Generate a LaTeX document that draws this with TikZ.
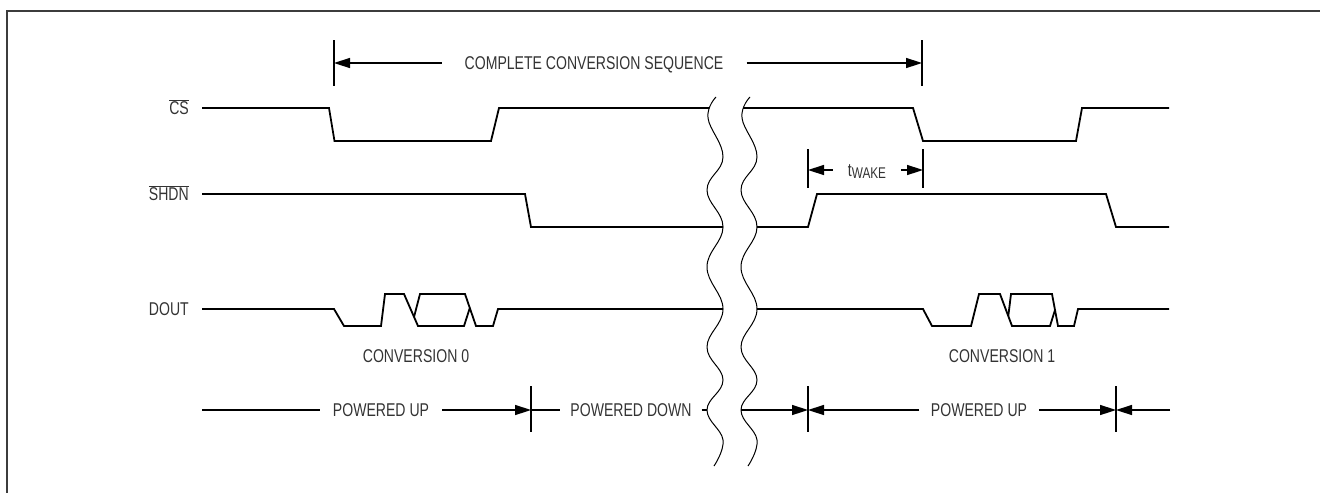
\documentclass[tikz,border=0pt]{standalone}
\usepackage{fontspec}
\setmainfont{Liberation Sans}[FakeStretch=0.76]
\usetikzlibrary{arrows.meta}
\definecolor{inkgray}{HTML}{333333}
\definecolor{framegray}{HTML}{3C3C3C}
\newcommand{\dimarrow}{-{Triangle[length=16pt,width=10pt]}}
\newcommand{\labelsize}{\fontsize{18.5}{22}\selectfont}
\tikzset{
  sig/.style={line width=1.8pt, line join=miter},
  dimline/.style={line width=1.5pt},
  dimbar/.style={line width=1.8pt},
  wavy/.style={line width=1pt},
  lbl/.style={inner ysep=0pt, inner xsep=12pt, text height=13.2pt, text depth=0pt,
    font=\labelsize, text=inkgray},
  signame/.style={lbl, anchor=east, inner xsep=13pt}
}

\begin{document}
\begin{tikzpicture}[x=1pt, y=-1pt]
  \useasboundingbox (0,0) rectangle (1320,493);
  % frame
  \draw[framegray, line width=2.5pt] (1320,11) -- (7,11) -- (7,493);

  % signal names
  \node[signame] (cs) at (202,108) {$\overline{\mbox{CS}}$};
  \node[signame] (shdn) at (202,194) {$\overline{\mbox{SHDN}}$};
  \node[signame] (dout) at (202,309) {DOUT};

  % CS
  \draw[sig] (cs.east) -- (329,108) -- (334.5,141) -- (491,141) -- (499,108) -- (709,108);
  \draw[sig] (743,108) -- (913,108) -- (923,141) -- (1076,141) -- (1082,108) -- (1169,108);
  % SHDN
  \draw[sig] (shdn.east) -- (525,194) -- (531,227) -- (723,227);
  \draw[sig] (757,227) -- (808,227) -- (817,194) -- (1106,194) -- (1116,227) -- (1169,227);
  % DOUT, conversion 0
  \draw[sig] (dout.east) -- (334,309) -- (344,326) -- (381,326) -- (385,294) -- (404,294)
    -- (418,326) -- (464,326) -- (469.8,308);
  \draw[sig] (414,317) -- (420,294) -- (465,294) -- (476,326) -- (493,326) -- (498,309) -- (723,309);
  % DOUT, conversion 1
  \draw[sig] (757,309) -- (923,309) -- (932,326) -- (971,326) -- (979,294) -- (1000,294)
    -- (1012,326) -- (1050,326) -- (1055,310);
  \draw[sig] (1008.3,316) -- (1011,294) -- (1052,294) -- (1058,326) -- (1074,326) -- (1078,309) -- (1169,309);

  \node[lbl] (conv0) at (416,356) {CONVERSION 0};
  \node[lbl] (conv1) at (1002,356) {CONVERSION 1};

  % break in time axis
  \foreach \dx in {0,34}
    \draw[wavy, xshift=\dx] plot[smooth, tension=0.7] coordinates {(716,97) (708,118) (723,157)
      (707,190) (723,227) (707,267) (723,309) (707,347) (723,380) (707,410) (723,440) (714,466)};

  % complete conversion sequence
  \coordinate (seqa) at (334,63);
  \coordinate (seqb) at (922,63);
  \draw[dimbar] (seqa) ++(0,-23) -- ++(0,46);
  \draw[dimbar] (seqb) ++(0,-23) -- ++(0,46);
  \node[lbl, inner xsep=23pt] (seq) at (594,63) {COMPLETE CONVERSION SEQUENCE};
  \draw[dimline, \dimarrow] (seq.west) -- (seqa);
  \draw[dimline, \dimarrow] (seq.east) -- (seqb);

  % wake-up time
  \coordinate (wka) at (808,170);
  \coordinate (wkb) at (923,170);
  \draw[dimbar] (wka) ++(0,-21) -- ++(0,39);
  \draw[dimbar] (wkb) ++(0,-21) -- ++(0,39);
  \node[lbl, inner xsep=15pt] (twake) at (867,170) {t\raisebox{-2pt}{\fontsize{15.5}{16}\selectfont WAKE}};
  \draw[dimline, \dimarrow] (twake.west) -- (wka);
  \draw[dimline, \dimarrow] (twake.east) -- (wkb);

  % power states
  \coordinate (pwa) at (531,410);
  \coordinate (pwb) at (808,410);
  \coordinate (pwc) at (1116,410);
  \coordinate (pwstart) at (202,410);
  \coordinate (pwbreakl) at (707,410);
  \coordinate (pwbreakr) at (741,410);
  \coordinate (pwend) at (1170,410);
  \foreach \b in {pwa,pwb,pwc}
    \draw[dimbar] (\b) ++(0,-24) -- ++(0,46);
  \node[lbl, inner xsep=13pt] (up0) at (381,410) {POWERED UP};
  \node[lbl, inner xsep=10pt] (down) at (631,410) {POWERED DOWN};
  \node[lbl, inner xsep=11.5pt] (up1) at (979,410) {POWERED UP};
  \draw[dimline] (pwstart) -- (up0.west);
  \draw[dimline, \dimarrow] (up0.east) -- (pwa);
  \draw[dimline] (pwa) -- (down.west);
  \draw[dimline] (down.east) -- (pwbreakl);
  \draw[dimline, \dimarrow] (pwbreakr) -- (pwb);
  \draw[dimline, \dimarrow] (up1.west) -- (pwb);
  \draw[dimline, \dimarrow] (up1.east) -- (pwc);
  \draw[dimline, \dimarrow] (pwend) -- (pwc);
\end{tikzpicture}
\end{document}
